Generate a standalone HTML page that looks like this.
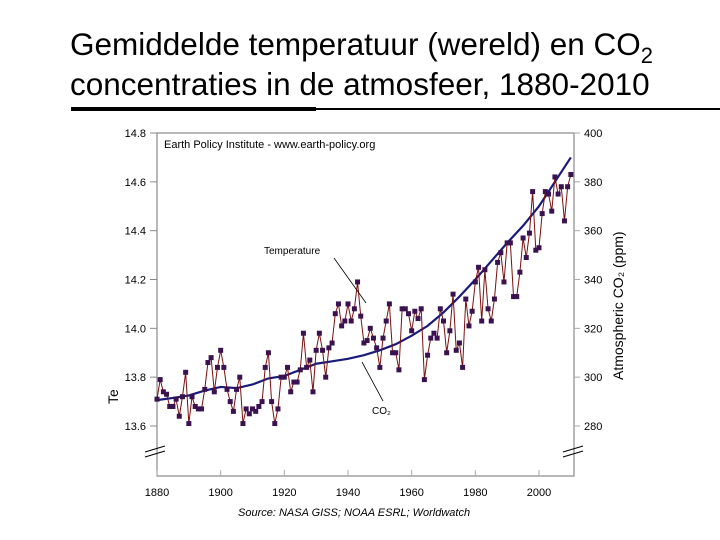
<!DOCTYPE html>
<html><head><meta charset="utf-8"><style>
body{margin:0;width:720px;height:540px;background:#fff;overflow:hidden;font-family:"Liberation Sans",sans-serif}
.t{position:absolute;left:70px;top:26px;font-size:31.5px;color:#000;line-height:37px;white-space:nowrap}
</style></head><body>
<div class="t">Gemiddelde temperatuur (wereld) en CO<span style="font-size:22px;position:relative;top:8px">2</span><br>concentraties in de atmosfeer, 1880-2010</div>
<div style="position:absolute;left:71px;top:107px;width:245px;height:4px;background:#000"></div>
<div style="position:absolute;left:316px;top:108px;width:404px;height:2px;background:#000"></div>
<svg id="c" width="720" height="540" style="position:absolute;left:0;top:0" font-family="Liberation Sans, sans-serif"></svg>
<script>
const years=[];for(let y=1880;y<=2010;y++)years.push(y);
const temps=[13.71,13.79,13.74,13.73,13.68,13.68,13.71,13.64,13.72,13.82,13.61,13.72,13.68,13.67,13.67,13.75,13.86,13.88,13.74,13.84,13.91,13.84,13.75,13.70,13.66,13.75,13.80,13.61,13.67,13.65,13.67,13.66,13.68,13.70,13.84,13.90,13.70,13.61,13.67,13.80,13.80,13.84,13.74,13.78,13.78,13.83,13.98,13.84,13.87,13.74,13.91,13.98,13.91,13.80,13.92,13.94,14.06,14.10,14.01,14.03,14.10,14.03,14.08,14.19,14.05,13.94,13.95,14.00,13.96,13.92,13.84,13.96,14.03,14.10,13.90,13.90,13.83,14.08,14.08,14.06,13.99,14.07,14.04,14.08,13.79,13.89,13.96,13.98,13.96,14.08,14.03,13.90,13.99,14.14,13.91,13.94,13.84,14.12,14.01,14.07,14.19,14.25,14.03,14.24,14.08,14.03,14.12,14.27,14.31,14.19,14.35,14.35,14.13,14.13,14.23,14.37,14.29,14.39,14.56,14.32,14.33,14.47,14.56,14.55,14.48,14.62,14.55,14.58,14.44,14.58,14.63];
const co2Years=[1880,1885,1890,1895,1900,1905,1910,1915,1920,1925,1930,1935,1940,1945,1950,1955,1960,1965,1970,1975,1980,1985,1990,1995,2000,2005,2010];
const co2=[290.6,291.5,292.5,294.5,296,295.5,297,299.5,300.5,303,305.5,306.5,307.5,309,311,313.5,317,321,326.5,333,340,347.5,355,362,370,380,390];
const tTicks=["13.6","13.8","14.0","14.2","14.4","14.6","14.8"];
const cTicks=["280","300","320","340","360","380","400"];
const xTicks=[1880,1900,1920,1940,1960,1980,2000];
const X=y=>157+(y-1880)*382/120;
const YT=t=>426-(t-13.6)*293/1.2;
const YC=c=>426-(c-280)*293/120;
const s=document.getElementById('c'),NS='http://www.w3.org/2000/svg';
function mk(tag,a,txt){const e=document.createElementNS(NS,tag);for(const k in a)e.setAttribute(k,a[k]);if(txt!=null)e.textContent=txt;s.appendChild(e);return e;}
let e;
e=mk('rect',{x:157,y:133,width:417,height:343,fill:'none',stroke:'#888','stroke-width':1.2});


tTicks.forEach(t=>{const y=YT(+t);
e=mk('line',{x1:150,x2:157,y1:y,y2:y,stroke:'#888'});


e=mk('text',{x:146,y:y+4,'font-size':11,'text-anchor':'end'},t);

});
cTicks.forEach(t=>{const y=YC(+t);
e=mk('line',{x1:574,x2:580,y1:y,y2:y,stroke:'#aaa'});


e=mk('text',{x:584,y:y+4,'font-size':11},t);

});
xTicks.forEach(t=>{const x=X(t);
e=mk('line',{x1:x,x2:x,y1:470,y2:476,stroke:'#aaa'});


e=mk('text',{x:x,y:496,'font-size':11,'text-anchor':'middle'},t);

});
[[145,449],[563,449]].forEach(p=>{for(const d of [0,5]){e=mk('line',{x1:p[0],y1:p[1]+d+3,x2:p[0]+20,y2:p[1]+d-3,stroke:'#000','stroke-width':1});

}});
e=mk('text',{x:164,y:148,'font-size':11},'Earth Policy Institute - www.earth-policy.org');


e=mk('text',{x:238,y:516,'font-size':11,'font-style':'italic'},'Source: NASA GISS; NOAA ESRL; Worldwatch');


e=mk('text',{x:0,y:0,'font-size':14,transform:'translate(623,380) rotate(-90)'},'Atmospheric CO\u2082 (ppm)');


e=mk('text',{x:0,y:0,'font-size':14,transform:'translate(118,404) rotate(-90)'},'Te');


e=mk('polyline',{points:co2Years.map((y,i)=>X(y)+','+YC(co2[i])).join(' '),fill:'none',stroke:'#1a1a7a','stroke-width':2.2});


e=mk('polyline',{points:years.map((y,i)=>X(y)+','+YT(temps[i])).join(' '),fill:'none',stroke:'#7a1010','stroke-width':1});


years.forEach((y,i)=>{e=mk('rect',{x:X(y)-2.5,y:YT(temps[i])-2.5,width:5,height:5,fill:'#3a1250'});

});
e=mk('text',{x:264,y:254,'font-size':10},'Temperature');


e=mk('line',{x1:334,y1:258,x2:366,y2:303,stroke:'#000','stroke-width':0.8});


e=mk('text',{x:372,y:414,'font-size':10},'CO\u2082');


e=mk('line',{x1:362,y1:362,x2:383,y2:401,stroke:'#000','stroke-width':0.8});


</script>
</body></html>
